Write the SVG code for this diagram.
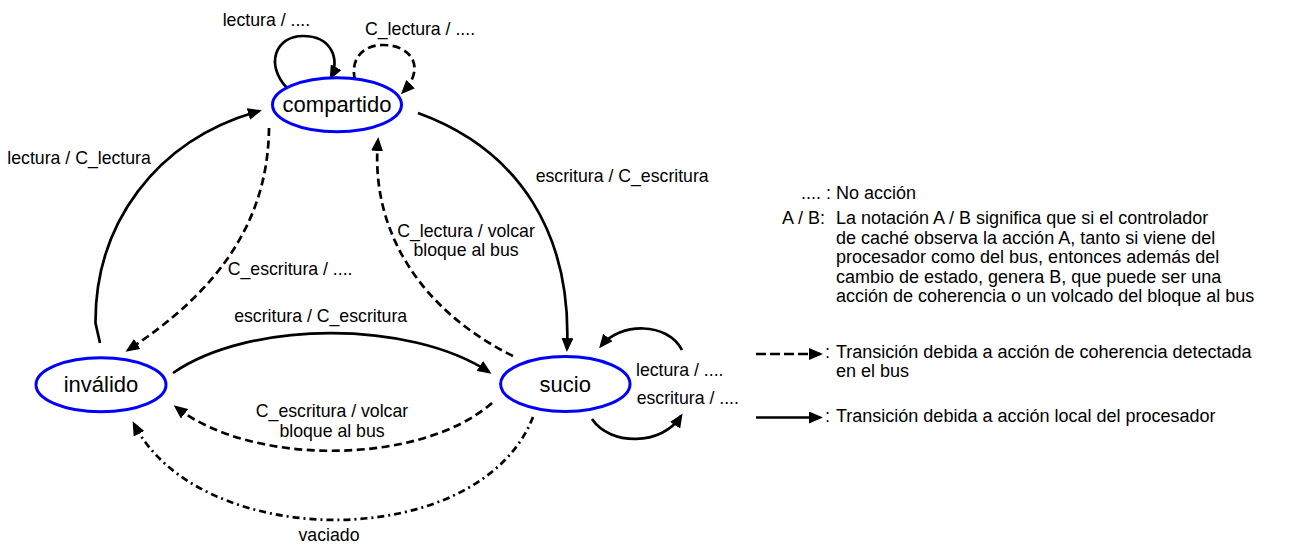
<svg xmlns="http://www.w3.org/2000/svg" width="1295" height="545" viewBox="0 0 1295 545">
<style>
text{font-family:"Liberation Sans",Arial,sans-serif;fill:#000}
.st{font-size:22px;text-anchor:middle}
.lb{font-size:17.7px}
.lg{font-size:18px}
.lc{font-size:17.7px;text-anchor:middle}
.node{fill:#fff;stroke:#0000ff;stroke-width:3}
.e{fill:none;stroke:#000;stroke-width:2.7}
.d{stroke-dasharray:8 4.5}
.dd{stroke-dasharray:7 4 2 4}
.arr{marker-end:url(#ah)}
</style>
<defs>
<marker id="ah" markerUnits="userSpaceOnUse" viewBox="0 0 14 12" markerWidth="14" markerHeight="12" refX="11" refY="6" orient="auto">
<path d="M0,0 L14,6 L0,12 z" fill="#000"/>
</marker>
</defs>
<g id="connectors">
<path class="e arr" d="M287,88 C265,65 275,36 303,36 C332,36 340,60 331,77"/>
<path class="e d arr" stroke-dasharray="6 4" d="M355,80 C350,60 362,45 383,45 C412,45 426,68 403,92"/>
<path class="e arr" d="M100,343 L95.5,323 C95,225 155,140 259,111"/>
<path class="e d arr" d="M269,128 C268,220 220,290 128,350"/>
<path class="e arr" d="M173,373 C250,320 410,320 489,372"/>
<path class="e d arr" d="M492,403 C420,466 250,466 176,407"/>
<path class="e dd arr" d="M533,417 C480,553 200,553 134,424"/>
<path class="e arr" d="M418,113 C520,150 572,235 567,349"/>
<path class="e d arr" d="M513,356 C420,310 370,230 378,140"/>
<path class="e arr" d="M682,350 C668,322 620,322 601,346"/>
<path class="e arr" d="M592,419 C610,446 662,446 681,416"/>
</g>
<g id="labels">
<text class="lb" x="222.7" y="26">lectura / ....</text>
<text class="lb" x="365" y="35">C_lectura / ....</text>
<text class="lb" x="7.3" y="164">lectura / C_lectura</text>
<text class="lb" x="227.7" y="275">C_escritura / ....</text>
<text class="lc" x="320.7" y="321.7">escritura / C_escritura</text>
<text class="lc" x="332" y="417.3">C_escritura / volcar</text>
<text class="lc" x="332" y="437.3">bloque al bus</text>
<text class="lc" x="329" y="541">vaciado</text>
<text class="lb" x="535.7" y="181.7">escritura / C_escritura</text>
<text class="lc" x="466" y="236.7">C_lectura / volcar</text>
<text class="lc" x="466" y="256">bloque al bus</text>
<text class="lb" x="636" y="376">lectura / ....</text>
<text class="lb" x="636.7" y="404">escritura / ....</text>
</g>
<g id="compartido">
<ellipse class="node" cx="337" cy="104.7" rx="64.5" ry="27"/>
<text class="st" x="337" y="112">compartido</text>
</g>
<g id="invalido">
<ellipse class="node" cx="101" cy="384.7" rx="65" ry="27"/>
<text class="st" x="101" y="392">inválido</text>
</g>
<g id="sucio">
<ellipse class="node" cx="565.3" cy="384" rx="64.7" ry="27.5"/>
<text class="st" x="565.3" y="392">sucio</text>
</g>
<g id="legend">
<text class="lg" x="801" y="199">.... : No acción</text>
<text class="lg" x="782" y="224">A / B:</text>
<text class="lg" x="836" y="224">La notación A / B significa que si el controlador</text>
<text class="lg" x="836" y="243.5">de caché observa la acción A, tanto si viene del</text>
<text class="lg" x="836" y="263">procesador como del bus, entonces además del</text>
<text class="lg" x="836" y="282.5">cambio de estado, genera B, que puede ser una</text>
<text class="lg" x="836" y="302">acción de coherencia o un volcado del bloque al bus</text>
<path class="e arr" stroke-dasharray="10 4" d="M756,354 L820,354"/>
<text class="lg" x="825" y="358">:</text>
<text class="lg" x="836" y="358">Transición debida a acción de coherencia detectada</text>
<text class="lg" x="836" y="377">en el bus</text>
<path class="e arr" d="M756,417.5 L820,417.5"/>
<text class="lg" x="825" y="421.7">:</text>
<text class="lg" x="836" y="421.7">Transición debida a acción local del procesador</text>
</g>
</svg>
